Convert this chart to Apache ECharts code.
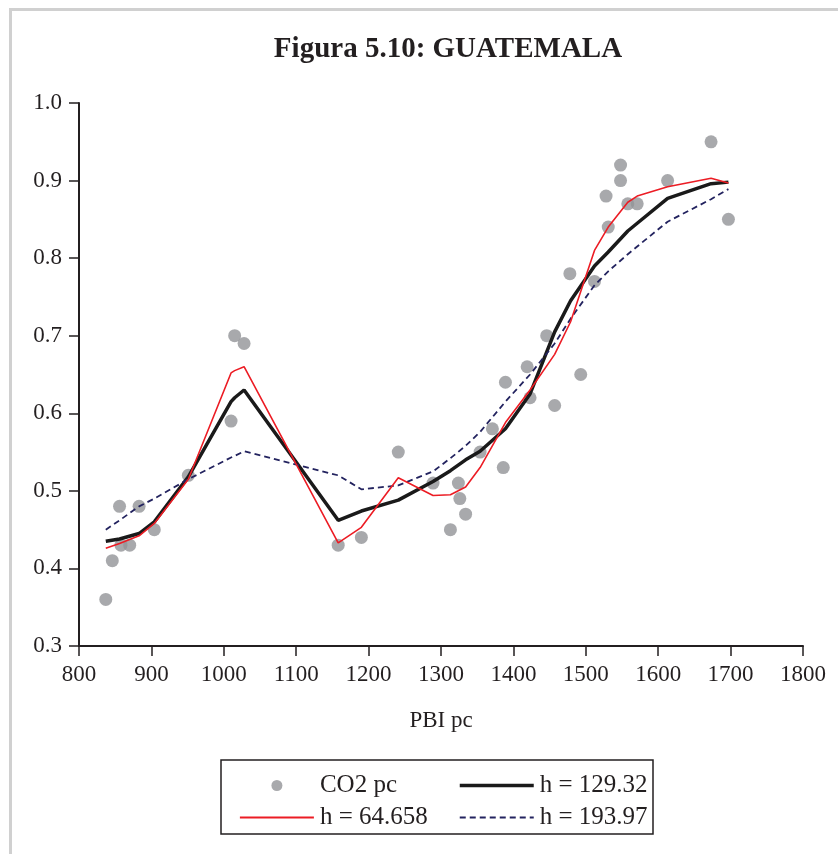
<!DOCTYPE html>
<html>
<head>
<meta charset="utf-8">
<script src="https://cdn.jsdelivr.net/npm/echarts@6/dist/echarts.min.js"></script>
<style>
html,body{margin:0;padding:0;background:#fff;}
#chart{width:838px;height:854px;}
</style>
</head>
<body>
<div id="chart"></div>
<script>
// Observed points: PBI pc (x) and CO2 pc (y)
const pbiPc = [837, 846, 856, 858, 870, 883, 904, 951, 1010, 1015, 1028, 1158, 1190, 1241, 1289, 1313, 1324, 1326, 1334, 1354, 1371, 1386, 1389, 1419, 1423, 1446, 1457, 1478, 1493, 1512, 1528, 1531, 1548, 1548, 1558, 1571, 1613, 1673, 1697];
const co2Pc = [0.36, 0.41, 0.48, 0.43, 0.43, 0.48, 0.45, 0.52, 0.59, 0.70, 0.69, 0.43, 0.44, 0.55, 0.51, 0.45, 0.51, 0.49, 0.47, 0.55, 0.58, 0.53, 0.64, 0.66, 0.62, 0.70, 0.61, 0.78, 0.65, 0.77, 0.88, 0.84, 0.90, 0.92, 0.87, 0.87, 0.90, 0.95, 0.85];

// Kernel fits evaluated at these PBI pc values
const fitX = [837, 856, 883, 904, 951, 1010, 1015, 1028, 1158, 1190, 1241, 1289, 1313, 1334, 1354, 1389, 1423, 1457, 1479, 1512, 1531, 1558, 1571, 1613, 1673, 1697];
const fitH64 = [0.426, 0.432, 0.442, 0.458, 0.515, 0.652, 0.655, 0.660, 0.433, 0.453, 0.517, 0.494, 0.495, 0.505, 0.530, 0.588, 0.630, 0.676, 0.718, 0.810, 0.840, 0.872, 0.880, 0.892, 0.903, 0.897];
const fitH129 = [0.435, 0.438, 0.445, 0.460, 0.518, 0.615, 0.620, 0.630, 0.462, 0.474, 0.488, 0.512, 0.526, 0.540, 0.551, 0.580, 0.625, 0.705, 0.745, 0.790, 0.808, 0.835, 0.845, 0.877, 0.896, 0.898];
const fitH193 = [0.450, 0.462, 0.480, 0.490, 0.515, 0.543, 0.545, 0.551, 0.520, 0.502, 0.507, 0.525, 0.542, 0.558, 0.576, 0.615, 0.650, 0.690, 0.722, 0.765, 0.783, 0.805, 0.815, 0.847, 0.876, 0.889];

const xTicks = [800, 900, 1000, 1100, 1200, 1300, 1400, 1500, 1600, 1700, 1800];
const yTicks = ['0.3', '0.4', '0.5', '0.6', '0.7', '0.8', '0.9', '1.0'];

const titleText = 'Figura 5.10: GUATEMALA';
const xName = 'PBI pc';
const names = ['CO2 pc', 'h = 64.658', 'h = 129.32', 'h = 193.97'];

const FONT = '"Liberation Serif", "Times New Roman", serif';
const INK = '#231f20';
const RED = '#ec1c24', BLACK = '#1a1a1a', NAVY = '#23235f';

const zip = (xs, ys) => xs.map((x, i) => [x, ys[i]]);
const hidden = {opacity: 0, color: 'rgba(0,0,0,0)', borderWidth: 0};

const chart = echarts.init(document.getElementById('chart'), null, {renderer: 'canvas'});
chart.setOption({
  animation: false,
  backgroundColor: '#ffffff',
  title: {
    text: titleText,
    left: 443,
    top: 30,
    textAlign: 'center',
    textStyle: {fontFamily: FONT, fontWeight: 'bold', fontSize: 29, color: INK}
  },
  graphic: [
    {type: 'rect', shape: {x: 10.5, y: 9.5, width: 900, height: 900},
     style: {fill: 'none', stroke: '#d0d0d0', lineWidth: 3}, silent: true, z: -10},
    {type: 'rect', shape: {x: 221, y: 760, width: 432, height: 74},
     style: {fill: 'none', stroke: INK, lineWidth: 1.5}, silent: true}
  ],
  legend: [
    {
      orient: 'vertical', left: 234, top: 768,
      itemWidth: 74, itemHeight: 11, itemGap: 7,
      data: [
        {name: names[0], icon: 'circle'},
        {name: names[1], itemStyle: hidden, lineStyle: {width: 1.8, color: RED}}
      ],
      textStyle: {fontFamily: FONT, fontSize: 25, color: INK, lineHeight: 25, padding: [0,0,0,1]},
      selectedMode: false
    },
    {
      orient: 'vertical', left: 453, top: 768,
      itemWidth: 74, itemHeight: 11, itemGap: 7,
      data: [
        {name: names[2], itemStyle: hidden, lineStyle: {width: 3.5, color: BLACK}},
        {name: names[3], itemStyle: hidden, lineStyle: {width: 1.8, color: NAVY, type: [6, 4]}}
      ],
      textStyle: {fontFamily: FONT, fontSize: 25, color: INK, lineHeight: 25, padding: [0,0,0,1]},
      selectedMode: false
    }
  ],
  grid: {left: 79, right: 35, top: 103, bottom: 208, containLabel: false},
  xAxis: {
    type: 'value', min: 800, max: 1800, interval: 100,
    name: xName, nameLocation: 'middle', nameGap: 63,
    nameTextStyle: {fontFamily: FONT, fontSize: 23, color: INK},
    axisLine: {show: true, onZero: false, lineStyle: {color: INK, width: 2}},
    axisTick: {show: true, length: 10, lineStyle: {color: INK, width: 1.5}},
    axisLabel: {fontFamily: FONT, fontSize: 23, color: INK, margin: 17,
      formatter: v => String(xTicks[Math.round((v - 800) / 100)])},
    splitLine: {show: false}
  },
  yAxis: {
    type: 'value', min: 0.3, max: 1.0, interval: 0.1,
    axisLine: {show: true, onZero: false, lineStyle: {color: INK, width: 2}},
    axisTick: {show: true, length: 10, lineStyle: {color: INK, width: 1.5}},
    axisLabel: {fontFamily: FONT, fontSize: 23, color: INK, margin: 17,
      formatter: v => yTicks[Math.round((v - 0.3) * 10)]},
    splitLine: {show: false}
  },
  series: [
    {
      name: names[0], type: 'scatter', data: zip(pbiPc, co2Pc),
      symbol: 'circle', symbolSize: 13,
      itemStyle: {color: '#929497'}, z: 2
    },
    {
      name: names[2], type: 'line', data: zip(fitX, fitH129),
      symbol: 'none', smooth: false,
      lineStyle: {color: BLACK, width: 3.5}, itemStyle: {color: BLACK}, z: 3
    },
    {
      name: names[3], type: 'line', data: zip(fitX, fitH193),
      symbol: 'none', smooth: false,
      lineStyle: {color: NAVY, width: 1.8, type: [6, 4]}, itemStyle: {color: NAVY}, z: 4
    },
    {
      name: names[1], type: 'line', data: zip(fitX, fitH64),
      symbol: 'none', smooth: false,
      lineStyle: {color: RED, width: 1.6}, itemStyle: {color: RED}, z: 5
    }
  ]
});
</script>
</body>
</html>
